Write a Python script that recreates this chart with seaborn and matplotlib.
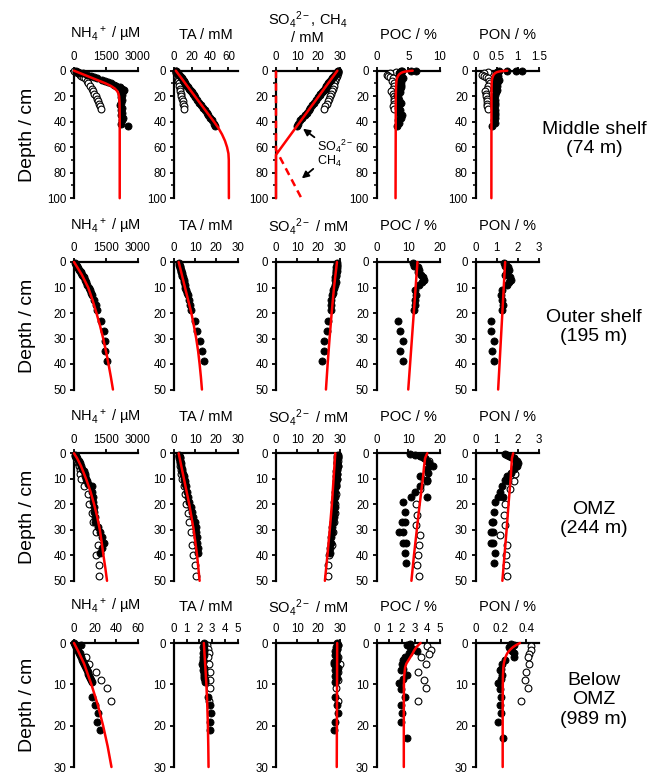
import matplotlib
matplotlib.use('Agg')
import matplotlib.pyplot as plt
from matplotlib.ticker import MultipleLocator, FuncFormatter
import seaborn as sns

# ---------------- data (depth in cm) ----------------
sites = ['Middle shelf\n(74 m)', 'Outer shelf\n(195 m)', 'OMZ\n(244 m)', 'Below\nOMZ\n(989 m)']

# Middle shelf
pw1_z = [0.5, 1, 1.5, 2, 3, 4, 5, 6, 7, 8, 9, 10, 11, 12, 13, 14, 15, 16, 17, 18, 19, 21, 23, 25, 27, 29, 31, 33, 35, 37, 39, 42, 43]
nh4_1 = [100, 200, 300, 420, 600, 800, 950, 1100, 1300, 1450, 1600, 1750, 1900, 2000, 2150, 2250, 2350, 2300, 2250, 2200, 2250, 2200, 2250, 2200, 2150, 2250, 2200, 2250, 2200, 2300, 2250, 2200, 2550]
ta_1 = [2.5, 3, 3.5, 4, 5, 6.5, 7.5, 8.5, 9.5, 10.5, 11.5, 12.5, 13.5, 14.5, 15.5, 16.5, 17.5, 18.5, 19.5, 20.5, 21.5, 23.5, 25.5, 27.5, 30, 32, 34, 36, 38, 40, 42, 44.5, 45.5]
so4_1 = [29.5, 29, 28.8, 28.5, 28, 27.5, 27, 26.5, 26, 25.5, 25, 24.8, 24.2, 23.8, 23.5, 23, 22.5, 22, 21.5, 21, 20.8, 20, 19, 18, 17, 16, 15.5, 14.5, 13.5, 12.5, 11.5, 10.5, 10]
pw1o_z = [0, 1, 2, 3, 4, 5, 6, 8, 10, 12, 14, 16, 18, 20, 22, 24, 26, 28, 30]
nh4_1o = [0, 100, 200, 280, 350, 430, 500, 600, 680, 760, 830, 900, 960, 1020, 1080, 1130, 1180, 1220, 1260]
ta_1o = [2, 2.3, 2.6, 3, 3.3, 3.7, 4, 4.6, 5.2, 5.8, 6.4, 7, 7.6, 8.2, 8.8, 9.5, 10.2, 10.8, 11.5]
so4_1o = [29.5, 29.3, 29.1, 28.9, 28.7, 28.5, 28.3, 28, 27.6, 27.2, 26.8, 26.4, 26, 25.5, 25, 24.5, 24, 23.3, 22.5]
sd1_z = [0, 0, 0, 0.5, 1, 2, 3, 4, 5, 6, 7, 8, 9, 10, 11, 12, 13, 14, 15, 17, 19, 21, 23, 25, 27, 29, 31, 33, 35, 37, 39, 41, 43]
poc_1 = [6.2, 5.5, 3.8, 4.0, 3.7, 3.6, 3.8, 3.5, 3.9, 4.1, 3.7, 3.6, 3.9, 3.5, 3.8, 3.6, 3.9, 3.7, 3.5, 3.7, 3.2, 3.4, 3.6, 3.8, 3.5, 3.4, 3.7, 3.6, 4.0, 3.9, 3.4, 3.6, 3.2]
pon_1 = [1.1, 0.95, 0.75, 0.55, 0.5, 0.48, 0.5, 0.52, 0.47, 0.5, 0.55, 0.52, 0.48, 0.5, 0.45, 0.5, 0.47, 0.45, 0.5, 0.48, 0.46, 0.43, 0.45, 0.47, 0.45, 0.43, 0.46, 0.45, 0.47, 0.46, 0.43, 0.45, 0.40]
sd1o_z = [1, 2, 3, 4, 5, 6, 8, 10, 12, 14, 16, 18, 20, 22, 24, 26, 28, 30]
poc_1o = [3.0, 2.2, 1.6, 1.8, 2.2, 2.6, 2.4, 2.7, 2.8, 2.6, 2.3, 2.6, 2.7, 2.8, 2.7, 2.8, 2.6, 2.7]
pon_1o = [0.3, 0.2, 0.15, 0.2, 0.25, 0.3, 0.32, 0.35, 0.3, 0.27, 0.22, 0.25, 0.25, 0.27, 0.28, 0.27, 0.28, 0.3]

nh4_1m_z = [0, 2, 4, 6, 8, 10, 12, 14, 16, 18, 20, 25, 30, 40, 60, 100]
nh4_1m = [0, 300, 600, 900, 1200, 1500, 1750, 1930, 2040, 2100, 2130, 2150, 2155, 2160, 2160, 2160]
ta_1m_z = [0, 5, 10, 20, 30, 40, 45, 50, 55, 60, 65, 70, 100]
ta_1m = [2, 7.3, 12.5, 23, 33.5, 44, 49, 53, 56.2, 58.5, 60, 60.4, 60.5]
so4_1m_z = [0, 10, 20, 30, 40, 50, 60, 66, 100]
so4_1m = [29, 24.6, 20.2, 15.8, 11.4, 7, 2.6, 0, 0]
ch4_1m_z = [0, 62, 100]
ch4_1m = [0, 0, 12]
org_1m_z = [0, 0.3, 0.7, 1.2, 2, 3, 4.5, 6, 8, 12, 20, 100]
poc_1m = [5.7, 5.0, 4.5, 4.1, 3.8, 3.55, 3.35, 3.22, 3.14, 3.08, 3.04, 3.0]
pon_1m = [0.75, 0.62, 0.55, 0.5, 0.46, 0.43, 0.41, 0.395, 0.385, 0.38, 0.377, 0.375]

# Outer shelf
pw2_z = [0.5, 1, 1.5, 2, 2.5, 3, 3.5, 4, 4.5, 5, 5.5, 6, 7, 8, 9, 10, 11, 12, 13, 15, 17, 19, 23, 27, 31, 35, 39]
nh4_2 = [40, 80, 120, 160, 200, 240, 280, 320, 350, 390, 420, 450, 510, 570, 630, 690, 750, 810, 870, 960, 1040, 1100, 1260, 1420, 1450, 1480, 1560]
ta_2 = [2.3, 2.5, 2.7, 2.8, 3.0, 3.2, 3.4, 3.5, 3.7, 3.9, 4.0, 4.2, 4.5, 4.8, 5.1, 5.4, 5.8, 6.1, 6.4, 7.0, 7.5, 8.0, 9.7, 11.1, 12.4, 13.2, 14.3]
so4_2 = [29, 29, 28.8, 28.5, 28.7, 28.4, 28.6, 28.3, 28.5, 28.2, 28.4, 28.0, 27.8, 28.2, 28.0, 27.5, 27.0, 26.8, 26.5, 26.2, 26.0, 25.8, 24.5, 24.3, 22.8, 22.5, 21.8]
sd2_z = [0.5, 1, 1.5, 2, 3, 4, 5, 6, 7, 8, 9, 11, 13, 15, 17, 19, 23, 27, 31, 35, 39]
poc_2 = [11.5, 12.2, 11.8, 13, 13.5, 13.2, 14, 14.5, 15, 14.2, 13.5, 12, 12.3, 12, 12.2, 11.8, 6.8, 7.3, 8.2, 7.3, 8.2]
pon_2 = [1.35, 1.45, 1.4, 1.55, 1.6, 1.5, 1.4, 1.65, 1.7, 1.6, 1.5, 1.25, 1.2, 1.25, 1.3, 1.25, 0.71, 0.75, 0.86, 0.77, 0.86]

nh4_2m_z = [0, 2, 5, 10, 15, 20, 25, 30, 35, 40, 45, 50]
nh4_2m = [0, 150, 370, 670, 880, 1060, 1230, 1380, 1510, 1630, 1740, 1840]
ta_2m_z = [0, 5, 10, 15, 20, 25, 30, 35, 40, 45, 50]
ta_2m = [2.2, 3.7, 5.2, 6.7, 8.2, 9.4, 10.5, 11.4, 12.1, 12.7, 13.2]
so4_2m_z = [0, 10, 20, 30, 40, 50]
so4_2m = [28.8, 27.4, 26.3, 25.3, 24.4, 23.6]
org_2m_z = [0, 50]
poc_2m = [12.9, 10.0]
pon_2m = [1.4, 1.07]

# OMZ
pw3_z = [0.5, 1, 1.5, 2, 3, 4, 5, 6, 7, 8, 9, 10, 11, 12, 13, 15, 17, 19, 21, 23, 25, 27, 29, 31, 33, 35, 37, 39]
nh4_3 = [40, 80, 110, 150, 220, 280, 330, 400, 450, 500, 540, 580, 630, 680, 830, 860, 880, 900, 930, 950, 980, 1000, 1150, 1250, 1300, 1400, 1300, 1250]
ta_3 = [2.3, 2.5, 2.6, 2.8, 3.0, 3.3, 3.5, 3.8, 4.0, 4.3, 4.5, 4.8, 5.0, 5.3, 5.5, 6.0, 6.5, 7.0, 7.8, 8.5, 9.0, 9.8, 10.2, 10.5, 10.7, 11.0, 11.2, 11.5]
so4_3 = [29.5, 29, 29.3, 28.8, 29, 28.7, 29.2, 28.8, 28.5, 28.7, 28.4, 28.6, 28.3, 28.4, 28.2, 28, 27.8, 27.6, 27.8, 27.3, 27.2, 26.9, 26.6, 26.5, 26.2, 25.8, 25.6, 25.3]
pw3o_z = [1, 2, 3, 4, 5, 6.5, 8, 10, 13, 16, 20, 23.5, 27, 31, 36, 40, 44, 48]
nh4_3o = [40, 90, 140, 190, 240, 280, 300, 330, 480, 640, 690, 840, 910, 1030, 1140, 1060, 1160, 1190]
ta_3o = [2.2, 2.4, 2.6, 2.8, 3.0, 3.2, 3.5, 3.9, 4.5, 5.0, 5.8, 6.5, 7.3, 8.0, 8.5, 9.2, 9.8, 10.5]
so4_3o = [29.3, 29.1, 29.2, 29.0, 29.1, 28.9, 28.8, 28.6, 28.5, 28.3, 28.0, 27.7, 27.3, 26.9, 26.3, 25.2, 24.8, 24.6]
sd3_z = [0.3, 0.7, 1, 1.5, 2, 3, 4, 4.6, 5, 6, 7.8, 8.8, 10.4, 11, 13, 15, 17, 17, 19, 23, 27, 27, 31, 31, 35, 35, 39, 43]
poc_3 = [10.5, 12.1, 13.7, 14.5, 15.2, 15.8, 16.5, 16.8, 17.9, 16, 16.3, 13.7, 15.8, 16, 13.7, 12.1, 11, 15.8, 8.4, 8.9, 7.9, 8.9, 7.2, 8.2, 8.2, 9.2, 8.9, 9.2]
pon_3 = [1.38, 1.5, 1.6, 1.7, 1.8, 1.9, 2.0, 1.9, 1.95, 1.8, 1.66, 1.5, 1.4, 1.55, 1.23, 1.15, 1.07, 1.3, 0.9, 0.87, 0.78, 0.85, 0.75, 0.82, 0.75, 0.83, 0.9, 0.86]
sd3o_z = [1, 2, 3, 5, 8, 11, 14, 20, 24, 28, 32, 36, 40, 44, 48]
poc_3o = [14, 15, 16.5, 16, 15.5, 15, 13.7, 12.5, 12.9, 12.5, 13.7, 13.5, 13.2, 12.9, 13.4]
pon_3o = [1.7, 1.8, 1.95, 1.9, 1.85, 1.8, 1.63, 1.4, 1.37, 1.4, 1.16, 1.48, 1.46, 1.43, 1.49]

nh4_3m_z = [0, 2, 5, 10, 15, 20, 25, 30, 35, 40, 45, 50]
nh4_3m = [0, 150, 330, 570, 780, 950, 1100, 1220, 1310, 1390, 1480, 1560]
pw3m_z = [0, 10, 20, 30, 40, 50]
ta_3m = [2.2, 4.7, 7.2, 9.3, 10.9, 12.1]
so4_3m = [28, 27.2, 26.4, 25.4, 24.3, 23.1]
poc_3m_z = [0, 1, 2, 5, 10, 20, 30, 40, 50]
poc_3m = [16, 15.6, 15.3, 15, 14.6, 13.6, 12.7, 11.8, 11.0]
pon_3m_z = [0, 2, 10, 20, 30, 40, 50]
pon_3m = [1.78, 1.72, 1.66, 1.56, 1.47, 1.37, 1.27]

# Below OMZ
pw4_z = [0, 0.5, 1, 1.5, 2, 2.5, 3, 3.5, 4, 4.5, 5, 5.5, 6, 6.5, 7, 7.5, 8, 8.5, 9, 9.5, 13, 15, 17, 19, 21]
nh4_4 = [0, 6.3, 1.5, 2.5, 3.5, 4.5, 5.5, 6.5, 7.5, 8.5, 9.5, 10.5, 11.2, 12, 12.8, 13.6, 14.4, 15.2, 16, 17, 17, 20.2, 22.7, 22.1, 24.3]
ta_4 = [2.4, 2.35, 2.3, 2.35, 2.4, 2.3, 2.35, 2.3, 2.3, 2.25, 2.2, 2.3, 2.35, 2.3, 2.4, 2.35, 2.4, 2.4, 2.45, 2.45, 2.66, 2.8, 2.9, 2.8, 2.8]
so4_4 = [29, 29.5, 28.5, 29, 28, 28.5, 28, 29, 28.8, 27.5, 27.3, 28.5, 29.5, 28, 29, 28.5, 28, 29, 28.5, 28, 27.8, 28.8, 29.3, 28, 27.2]
pw4o_z = [0.5, 1.5, 2.5, 3.5, 5, 7, 9, 11, 14]
nh4_4o = [1, 3, 6, 11.5, 14.6, 20.5, 25.9, 31.3, 35.4]
ta_4o = [2.6, 2.7, 2.75, 2.7, 2.75, 2.8, 2.8, 2.8, 2.75]
so4_4o = [29.5, 29, 28.5, 29.5, 30, 29.5, 29.5, 28.5, 29.5]
sd4_z = [0.3, 0.6, 1, 1.5, 1.9, 2.5, 3.4, 4, 5, 6.2, 6.6, 7.8, 8.6, 9.7, 11.1, 13, 15, 17, 19, 23]
poc_4 = [2.6, 2.42, 2.63, 2.9, 3.2, 2.58, 2.24, 2.1, 1.98, 2.05, 1.9, 2.37, 2.1, 1.8, 1.92, 2.24, 1.92, 1.98, 1.95, 2.42]
pon_4 = [0.28, 0.3, 0.26, 0.27, 0.29, 0.3, 0.3, 0.23, 0.21, 0.2, 0.19, 0.21, 0.2, 0.18, 0.19, 0.2, 0.19, 0.2, 0.18, 0.22]
sd4o_z = [0.7, 1.6, 2.7, 3.5, 5.1, 7, 9, 11, 14.1]
poc_4o = [3.95, 4.3, 4.1, 3.5, 3.9, 3.3, 3.75, 3.9, 3.3]
pon_4o = [0.44, 0.435, 0.42, 0.41, 0.425, 0.4, 0.39, 0.41, 0.36]

nh4_4m_z = [0, 2, 5, 10, 15, 20, 25, 30]
nh4_4m = [0, 4, 9.5, 16.4, 22.5, 27.5, 31.8, 35.4]
ta_4m_z = [0, 5, 10, 15, 20, 25, 30]
ta_4m = [2.35, 2.45, 2.55, 2.62, 2.67, 2.7, 2.72]
so4_4m_z = [0, 30]
so4_4m = [28.9, 28.7]
org_4m_z = [0, 0.5, 1, 1.5, 2, 2.5, 3, 4, 5, 6, 8, 10, 15, 30]
poc_4m = [3.47, 3.3, 3.15, 3.03, 2.93, 2.85, 2.75, 2.55, 2.35, 2.25, 2.18, 2.16, 2.15, 2.15]
pon_4m = [0.35, 0.32, 0.295, 0.277, 0.262, 0.25, 0.242, 0.23, 0.223, 0.219, 0.216, 0.215, 0.214, 0.214]

titles = ['NH$_4$$^+$ / µM', 'TA / mM', 'SO$_4$$^{2-}$ / mM', 'POC / %', 'PON / %']

# panels: (filled x, filled z, open x, open z, model x, model z, xlim, xticks)
rows = [
    [(nh4_1, pw1_z, nh4_1o, pw1o_z, nh4_1m, nh4_1m_z, 3000, [0, 1500, 3000]),
     (ta_1, pw1_z, ta_1o, pw1o_z, ta_1m, ta_1m_z, 70, [0, 20, 40, 60]),
     (so4_1, pw1_z, so4_1o, pw1o_z, so4_1m, so4_1m_z, 30, [0, 10, 20, 30]),
     (poc_1, sd1_z, poc_1o, sd1o_z, poc_1m, org_1m_z, 10, [0, 5, 10]),
     (pon_1, sd1_z, pon_1o, sd1o_z, pon_1m, org_1m_z, 1.5, [0, 0.5, 1, 1.5])],
    [(nh4_2, pw2_z, None, None, nh4_2m, nh4_2m_z, 3000, [0, 1500, 3000]),
     (ta_2, pw2_z, None, None, ta_2m, ta_2m_z, 30, [0, 10, 20, 30]),
     (so4_2, pw2_z, None, None, so4_2m, so4_2m_z, 30, [0, 10, 20, 30]),
     (poc_2, sd2_z, None, None, poc_2m, org_2m_z, 20, [0, 10, 20]),
     (pon_2, sd2_z, None, None, pon_2m, org_2m_z, 3, [0, 1, 2, 3])],
    [(nh4_3, pw3_z, nh4_3o, pw3o_z, nh4_3m, nh4_3m_z, 3000, [0, 1500, 3000]),
     (ta_3, pw3_z, ta_3o, pw3o_z, ta_3m, pw3m_z, 30, [0, 10, 20, 30]),
     (so4_3, pw3_z, so4_3o, pw3o_z, so4_3m, pw3m_z, 30, [0, 10, 20, 30]),
     (poc_3, sd3_z, poc_3o, sd3o_z, poc_3m, poc_3m_z, 20, [0, 10, 20]),
     (pon_3, sd3_z, pon_3o, sd3o_z, pon_3m, pon_3m_z, 3, [0, 1, 2, 3])],
    [(nh4_4, pw4_z, nh4_4o, pw4o_z, nh4_4m, nh4_4m_z, 60, [0, 20, 40, 60]),
     (ta_4, pw4_z, ta_4o, pw4o_z, ta_4m, ta_4m_z, 5, [0, 1, 2, 3, 4, 5]),
     (so4_4, pw4_z, so4_4o, pw4o_z, so4_4m, so4_4m_z, 30, [0, 10, 20, 30]),
     (poc_4, sd4_z, poc_4o, sd4o_z, poc_4m, org_4m_z, 5, [0, 1, 2, 3, 4, 5]),
     (pon_4, sd4_z, pon_4o, sd4o_z, pon_4m, org_4m_z, 0.5, [0, 0.2, 0.4])],
]
depth_max = [100, 50, 50, 30]
depth_major = [20, 10, 10, 10]

# ---------------- style ----------------
sns.set_style('ticks')
plt.rcParams['font.family'] = ['Liberation Sans', 'DejaVu Sans']
plt.rcParams['mathtext.fontset'] = 'custom'
plt.rcParams['mathtext.rm'] = 'Liberation Sans'
plt.rcParams['mathtext.it'] = 'Liberation Sans:italic'
plt.rcParams['mathtext.bf'] = 'Liberation Sans:bold'
plt.rcParams['mathtext.default'] = 'regular'
plt.rcParams['text.color'] = 'black'
plt.rcParams['xtick.color'] = 'black'
plt.rcParams['ytick.color'] = 'black'
plt.rcParams['axes.edgecolor'] = 'black'

W, H = 667, 776
fig = plt.figure(figsize=(W / 100, H / 100), dpi=100)

col_left = [74, 174, 276, 376.5, 475.5]
row_top = [70.7, 262, 453.3, 643]
row_h = [127.5, 127.5, 127.5, 124]
aw = 63.5
fmt = FuncFormatter(lambda v, p: '{:g}'.format(v))

for r, row in enumerate(rows):
    ah = row_h[r]
    for c, (fx, fz, ox, oz, mx, mz, xmax, xt) in enumerate(row):
        ax = fig.add_axes([col_left[c] / W, 1 - (row_top[r] + ah) / H, aw / W, ah / H])
        if ox is not None:
            sns.scatterplot(x=ox, y=oz, ax=ax, s=24, color='white', edgecolor='black',
                            linewidth=0.8, clip_on=False, zorder=3, legend=False)
        sns.scatterplot(x=fx, y=fz, ax=ax, s=26, color='black', edgecolor='black',
                        linewidth=0.6, clip_on=False, zorder=3, legend=False)
        sns.lineplot(x=mx, y=mz, ax=ax, color='red', lw=1.8, sort=False, estimator=None,
                     orient='y', clip_on=False, zorder=4, legend=False)
        if r == 0 and c == 2:
            sns.lineplot(x=ch4_1m, y=ch4_1m_z, ax=ax, color='red', lw=1.8, sort=False,
                         estimator=None, orient='y', linestyle=(0, (3, 2)),
                         clip_on=False, zorder=4, legend=False)
            ax.annotate('', xy=(11.7, 44.2), xytext=(19.2, 53.5), annotation_clip=False,
                        arrowprops=dict(arrowstyle='-|>', color='black', lw=1.3, mutation_scale=10))
            ax.annotate('', xy=(11.2, 85.9), xytext=(18.6, 75.6), annotation_clip=False,
                        arrowprops=dict(arrowstyle='-|>', color='black', lw=1.3, mutation_scale=10))
            ax.text(19.3, 59.6, 'SO$_4$$^{2-}$', fontsize=9, ha='left', va='center', clip_on=False)
            ax.text(19.3, 71.5, 'CH$_4$', fontsize=9, ha='left', va='center', clip_on=False)

        ax.set_xlim(0, xmax)
        ax.set_ylim(depth_max[r], 0)
        ax.set_xticks(xt)
        ax.xaxis.set_major_formatter(fmt)
        ax.yaxis.set_major_locator(MultipleLocator(depth_major[r]))
        if r == 0:
            ax.yaxis.set_minor_locator(MultipleLocator(10))
        ax.xaxis.tick_top()
        ax.set_xlabel('')
        ax.set_ylabel('')
        for s in ['right', 'bottom']:
            ax.spines[s].set_visible(False)
        for s in ['left', 'top']:
            ax.spines[s].set_linewidth(1.6)
            ax.spines[s].set_color('black')
        ax.tick_params(axis='both', which='major', direction='out', length=3, width=1.3,
                       labelsize=8.3, pad=2.5, color='black', labelcolor='black')
        ax.tick_params(axis='y', which='minor', direction='out', length=2, width=1.1)
        ax.set_facecolor('none')

        cx = (col_left[c] + aw / 2) / W
        if r == 0 and c == 2:
            fig.text(cx, 1 - 19 / H, 'SO$_4$$^{2-}$, CH$_4$', fontsize=10.5, ha='center', va='center')
            fig.text(cx, 1 - 38 / H, '/ mM', fontsize=10.5, ha='center', va='center')
        else:
            fig.text(cx, 1 - (row_top[r] - 36) / H, titles[c], fontsize=10.5,
                     ha='center', va='center')

    yc = row_top[r] + ah / 2
    fig.text(28 / W, 1 - yc / H, 'Depth / cm', fontsize=14, rotation=90,
             ha='center', va='center')

label_y = [139, 327, 519, 700]
for r, name in enumerate(sites):
    fig.text(594 / W, 1 - label_y[r] / H, name, fontsize=14, ha='center', va='center',
             linespacing=1.2)

fig.savefig('out.png', dpi=100)
